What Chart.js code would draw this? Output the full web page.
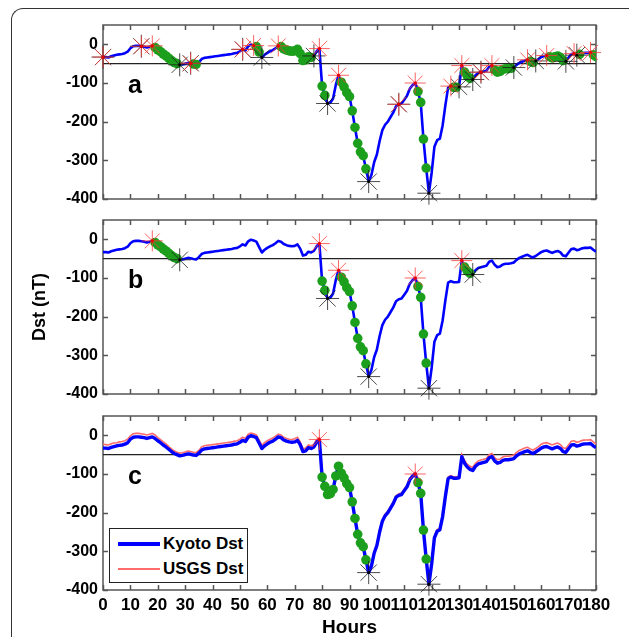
<!DOCTYPE html>
<html><head><meta charset="utf-8">
<script src="https://cdn.jsdelivr.net/npm/chart.js@4.4.0/dist/chart.umd.min.js"></script>
<style>
html,body{margin:0;padding:0;background:#fff;width:629px;height:637px;overflow:hidden;position:relative;}
#frame{position:absolute;left:11px;top:8px;width:800px;height:800px;border-left:1.5px solid #333;border-top:1.5px solid #333;border-top-left-radius:12px;}
canvas{position:absolute;left:0;}
#legend{position:absolute;left:109px;top:528px;width:137px;height:53px;border:1px solid #222;background:#fff;font:bold 17px "Liberation Sans",Arial,sans-serif;z-index:5;color:#000}
.li{position:absolute;left:0;height:20px;width:137px}
.sw{position:absolute;left:8px;width:42px}
.lt{position:absolute;left:53px;top:0;line-height:20px;white-space:nowrap}
</style></head>
<body>
<div id="frame"></div>
<canvas id="ca" width="629" height="215" style="top:0px"></canvas>
<canvas id="cb" width="629" height="215" style="top:205px"></canvas>
<canvas id="cc" width="629" height="237" style="top:400px"></canvas>
<div id="legend"></div>
<script>
// ---------------- data ----------------
const X_TICKS = [0,10,20,30,40,50,60,70,80,90,100,110,120,130,140,150,160,170,180];
const Y_TICKS = [0,-100,-200,-300,-400];
const Y_MIN = -400, Y_MAX = 50, X_MIN = 0, X_MAX = 180;
const THRESHOLD = -50;
const SERIES_LABELS = ['Kyoto Dst','USGS Dst'];
const PANEL_LETTERS = ['a','b','c'];

// hourly Kyoto Dst, hours 0..180
const KYOTO = [
 -33,-33,-34,-31,-29,-27,-26,-25,-23,-19,-10,-5,-4,-4,-5,-6,-8,-6,-4,-8,
 -14,-19,-25,-30,-36,-42,-47,-50,-53,-52,-50,-48,-49,-51,-52,-46,-38,-35,-34,-33,
 -32,-31,-30,-29,-28,-27,-26,-25,-23,-22,-18,-13,-16,-5,-1,-3,-6,-20,-34,-27,
 -22,-18,-15,-10,-4,-6,-12,-15,-17,-18,-17,-13,-24,-42,-40,-32,-34,-30,-18,-11,
 -108,-132,-153,-151,-140,-105,-80,-98,-110,-125,-135,-172,-215,-256,-278,-288,-322,-355,-338,-305,
 -285,-250,-222,-208,-200,-188,-176,-160,-155,-153,-143,-133,-115,-106,-100,-122,-150,-245,-320,-385,
 -332,-265,-248,-244,-210,-158,-112,-108,-111,-111,-110,-55,-72,-82,-88,-91,-80,-74,-72,-70,
 -68,-58,-55,-66,-72,-70,-65,-63,-63,-62,-60,-53,-48,-45,-42,-40,-44,-47,-43,-38,
 -33,-30,-29,-32,-35,-32,-30,-34,-42,-44,-34,-25,-24,-28,-26,-23,-22,-22,-21,-27,-32
];
// hourly USGS Dst, hours 0..180
const USGS = [
 -23,-24,-25,-22,-20,-19,-17,-16,-14,-10,-1,4,5,5,4,3,1,3,5,1,
 -6,-11,-17,-22,-29,-35,-40,-44,-46,-45,-43,-41,-42,-44,-45,-39,-30,-27,-26,-25,
 -24,-23,-22,-21,-20,-19,-18,-17,-15,-14,-10,-5,-8,3,6,4,1,-12,-26,-19,
 -14,-10,-7,-2,3,1,-5,-8,-10,-11,-9,-5,-17,-35,-33,-25,-27,-23,-11,-6,
 -103,-128,-149,-148,-137,-101,-76,-94,-106,-121,-131,-168,-211,-252,-274,-284,-318,-350,-334,-301,
 -281,-246,-218,-204,-196,-184,-172,-156,-151,-149,-139,-129,-111,-102,-96,-118,-146,-241,-316,-381,
 -328,-261,-244,-240,-206,-154,-108,-104,-107,-107,-106,-50,-65,-75,-80,-83,-72,-66,-64,-62,
 -60,-50,-47,-58,-63,-61,-56,-54,-54,-53,-51,-44,-39,-36,-33,-31,-35,-38,-34,-29,
 -23,-20,-19,-22,-25,-22,-20,-24,-32,-34,-24,-15,-14,-18,-16,-13,-12,-12,-11,-17,-22
];

// marker hours per panel
const A_RED   = [0,14,18,32,51,55,64,79,86,108,114,127,131,138,142,155,162,172,178];
const A_BLACK = [0,14,28,32,51,58,77,82,97,108,119,130,135,138,150,158,169,173];
const A_GREEN = [19,20,21,22,23,24,25,26,27,33,34,56,57,65,66,67,68,69,70,71,72,73,74,75,76,80,81,
                 87,88,89,90,91,92,93,94,95,96,115,116,117,118,128,129,132,133,134,
                 143,144,145,146,147,148,149,156,157,163,164,165,166,167,168,174,179,180];
const B_RED   = [18,79,86,114,131];
const B_BLACK = [28,82,97,119,135];
const B_GREEN = [19,20,21,22,23,24,25,26,27,80,81,87,88,89,90,91,92,93,94,95,96,115,116,117,118,132,133,134];
const C_RED   = [79,114];
const C_BLACK = [97,119];
const C_GREEN = [80,81,82,83,84,85,86,87,88,89,90,91,92,93,94,95,96,115,116,117,118];

// ---------------- styling ----------------
const FONT = '"Liberation Sans", Arial, sans-serif';
Chart.defaults.font.family = FONT;
Chart.defaults.color = '#000';
const BLUE = '#0000ff', RED_LINE = '#ff6a6a', GREEN = '#1c9f1c';

function series(arr){ return arr.map((v,i)=>({x:i, y:v})); }
function pick(hours, arr){ return hours.map(h=>({x:h, y:arr[h]})); }

const framePlugin = {
  id:'frame',
  beforeDatasetsDraw(chart, args, opts){
    const {ctx, chartArea:a, scales:{x,y}} = chart;
    ctx.save();
    ctx.strokeStyle = '#555'; ctx.lineWidth = 1.5;
    ctx.strokeRect(a.left, a.top, a.right-a.left, a.bottom-a.top);
    ctx.beginPath();
    X_TICKS.forEach(v=>{ const p = Math.round(x.getPixelForValue(v))+0.5;
      ctx.moveTo(p,a.top); ctx.lineTo(p,a.top+5); ctx.moveTo(p,a.bottom); ctx.lineTo(p,a.bottom-5); });
    Y_TICKS.forEach(v=>{ const p = Math.round(y.getPixelForValue(v))+0.5;
      ctx.moveTo(a.left,p); ctx.lineTo(a.left+5,p); ctx.moveTo(a.right,p); ctx.lineTo(a.right-5,p); });
    ctx.stroke();
    ctx.fillStyle = '#000'; ctx.font = 'bold 25px ' + FONT; ctx.textBaseline = 'alphabetic';
    ctx.fillText(opts.letter, a.left+25, a.top+68);
    ctx.restore();
  }
};

function makePanel(id, cfg){
  const ds = [];
  ds.push({data:[{x:X_MIN,y:THRESHOLD},{x:X_MAX,y:THRESHOLD}], borderColor:'#222', borderWidth:1.2, pointRadius:0, order:9});
  if (cfg.usgs) ds.push({data:series(USGS), borderColor:RED_LINE, borderWidth:1.6, pointRadius:0, order:8});
  ds.push({data:series(KYOTO), borderColor:BLUE, borderWidth:cfg.lw, pointRadius:0, order:7, borderJoinStyle:'round'});
  ds.push({data:pick(cfg.green,KYOTO), showLine:false, pointRadius:4.8, pointBackgroundColor:GREEN, pointBorderColor:GREEN, pointBorderWidth:0, order:6});
  ds.push({data:pick(cfg.black,KYOTO), showLine:false, pointStyle:'star', pointRadius:11.5, pointBorderColor:'rgba(30,30,30,0.8)', pointBorderWidth:1, order:5, clip:false});
  ds.push({data:pick(cfg.red,KYOTO), showLine:false, pointStyle:'star', pointRadius:10.5, pointBorderColor:'rgba(255,60,60,0.8)', pointBorderWidth:1, order:4, clip:false});
  ds.push({data:pick(cfg.red,KYOTO), showLine:false, pointRadius:1.6, pointBackgroundColor:'#e00', pointBorderWidth:0, order:3, clip:false});
  ds.push({data:pick(cfg.black,KYOTO), showLine:false, pointRadius:1.4, pointBackgroundColor:'#000', pointBorderWidth:0, order:3, clip:false});

  const yAxis = {
    type:'linear', min:Y_MIN, max:Y_MAX,
    grid:{display:false, drawTicks:false}, border:{display:false},
    ticks:{font:{size:16, weight:'bold'}, padding:5, color:'#000'},
    afterBuildTicks(s){ s.ticks = Y_TICKS.map(v=>({value:v})); },
    afterFit(s){ s.width = cfg.yw; },
    title: cfg.ytitle ? {display:true, text:cfg.ytitle, font:{size:18, weight:'bold'}, padding:{top:3,bottom:0}, color:'#000'} : {display:false}
  };
  const xAxis = {
    type:'linear', min:X_MIN, max:X_MAX, display: !!cfg.showX,
    grid:{display:false, drawTicks:false}, border:{display:false},
    ticks:{font:{size:17, weight:'bold'}, padding:5, autoSkip:false, maxRotation:0, minRotation:0, color:'#000'},
    afterBuildTicks(s){ s.ticks = X_TICKS.map(v=>({value:v})); },
    afterFit(s){ if (cfg.showX) s.height = cfg.xh; },
    title: cfg.showX ? {display:true, text:'Hours', font:{size:19, weight:'bold', lineHeight:1}, padding:{top:0,bottom:0}, color:'#000'} : {display:false}
  };
  return new Chart(document.getElementById(id), {
    type:'line',
    data:{datasets:ds},
    options:{
      responsive:false, animation:false, events:[],
      layout:{padding:cfg.pad},
      scales:{x:xAxis, y:yAxis},
      plugins:{legend:{display:false}, tooltip:{enabled:false}, frame:{letter:cfg.letter}}
    },
    plugins:[framePlugin]
  });
}

makePanel('ca', {letter:PANEL_LETTERS[0], red:A_RED, black:A_BLACK, green:A_GREEN, lw:2.6, yw:103,
  pad:{left:0,right:33,top:25,bottom:16}});
makePanel('cb', {letter:PANEL_LETTERS[1], red:B_RED, black:B_BLACK, green:B_GREEN, lw:2.6, yw:77, ytitle:'Dst (nT)',
  pad:{left:26,right:33,top:15,bottom:26}});
makePanel('cc', {letter:PANEL_LETTERS[2], red:C_RED, black:C_BLACK, green:C_GREEN, lw:3.4, yw:103, usgs:true, showX:true, xh:47,
  pad:{left:0,right:33,top:16,bottom:0}});

// legend (HTML) from series labels
const lg = document.getElementById('legend');
[[SERIES_LABELS[0], BLUE, 3.2, 5], [SERIES_LABELS[1], RED_LINE, 1.6, 30]].forEach(([t,c,w,top])=>{
  const d = document.createElement('div'); d.className='li'; d.style.top = top+'px';
  const s = document.createElement('div'); s.className='sw'; s.style.top=(10-w/2)+'px'; s.style.height=w+'px'; s.style.background=c;
  const l = document.createElement('div'); l.className='lt'; l.textContent=t;
  d.appendChild(s); d.appendChild(l); lg.appendChild(d);
});
</script>
</body></html>
